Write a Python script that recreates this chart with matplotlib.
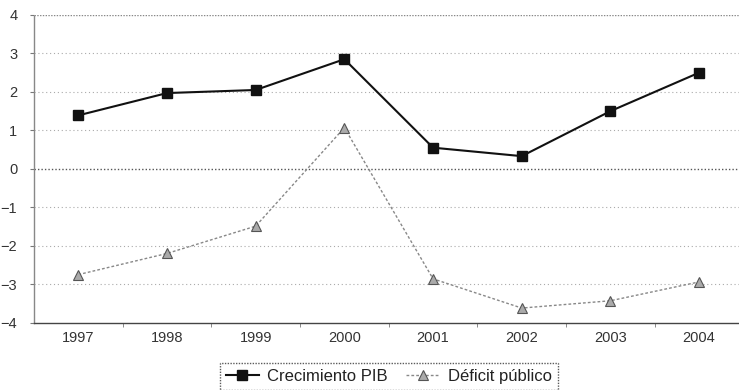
import matplotlib
matplotlib.use("Agg")
import matplotlib.pyplot as plt
from matplotlib.ticker import FixedLocator, NullFormatter

plt.rcParams['font.family'] = ['Liberation Sans', 'DejaVu Sans']

years = ['1997', '1998', '1999', '2000', '2001', '2002', '2003', '2004']
crecimiento_pib = [1.39, 1.97, 2.05, 2.85, 0.55, 0.33, 1.50, 2.50]
deficit_publico = [-2.75, -2.20, -1.49, 1.07, -2.86, -3.62, -3.43, -2.94]
y_ticks = [-4, -3, -2, -1, 0, 1, 2, 3, 4]

fig = plt.figure(figsize=(7.39, 3.90), dpi=100)
ax = fig.add_axes([0.046, 0.1726, 0.960, 0.789])

x = list(range(len(years)))

# horizontal guides
for v in y_ticks:
    if v == 0:
        ax.axhline(v, color='#555555', lw=1.0, ls=(0, (1, 1.5)), zorder=1)
    elif v == 4:
        ax.axhline(v, color='#888888', lw=1.0, ls=(0, (1, 1)), zorder=1)
    elif v != -4:
        ax.axhline(v, color='#aaaaaa', lw=0.8, ls=(0, (1, 2.5)), zorder=1)

ax.plot(x, crecimiento_pib, color='#111111', lw=1.5, marker='s', ms=7,
        mfc='#111111', mec='#111111', label='Crecimiento PIB', zorder=3)
ax.plot(x, deficit_publico, color='#888888', lw=1.0, ls=(0, (2, 1.5)),
        marker='^', ms=7, mfc='#aaaaaa', mec='#555555', mew=0.8,
        label='Déficit público', zorder=3)

ax.set_xlim(-0.5, len(years) - 0.5)
ax.set_ylim(-4, 4)
ax.set_yticks(y_ticks)
ax.set_xticks(x)
ax.set_xticklabels(years)
ax.xaxis.set_minor_locator(FixedLocator([i + 0.5 for i in range(len(years) - 1)]))
ax.xaxis.set_minor_formatter(NullFormatter())

ax.tick_params(axis='x', which='major', length=0, pad=6, labelsize=10.5, labelcolor='#333333')
ax.tick_params(axis='x', which='minor', length=3, direction='out', color='#777777')
ax.tick_params(axis='y', length=3, direction='out', color='#777777', pad=9,
               labelsize=10.5, labelcolor='#333333')

for s in ('top', 'right'):
    ax.spines[s].set_visible(False)
ax.spines['left'].set_color('#888888')
ax.spines['left'].set_linestyle((0, (1, 1)))
ax.spines['left'].set_linewidth(1.0)
ax.spines['bottom'].set_color('#444444')
ax.spines['bottom'].set_linewidth(1.0)

leg = ax.legend(loc='upper center', bbox_to_anchor=(0.526, 0.069),
                bbox_transform=fig.transFigure, ncol=2, frameon=True,
                fontsize=12, handlelength=2.0, handletextpad=0.5,
                columnspacing=1.1, borderpad=0.35, borderaxespad=0,
                fancybox=False)
frame = leg.get_frame()
frame.set_edgecolor('#333333')
frame.set_linestyle((0, (1, 1)))
frame.set_linewidth(1.0)
for t in leg.get_texts():
    t.set_color('#222222')

fig.savefig('out.png', dpi=100)
